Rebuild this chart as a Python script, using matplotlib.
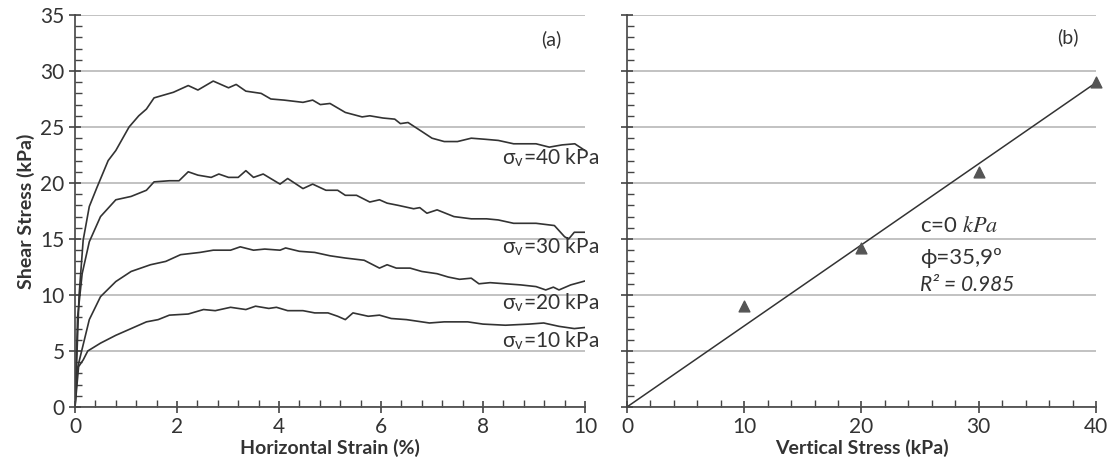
import numpy as np
import matplotlib
matplotlib.use("Agg")
import matplotlib.pyplot as plt
from matplotlib.ticker import MultipleLocator

plt.rcParams['font.family'] = ['Lato', 'DejaVu Sans']
plt.rcParams['mathtext.fontset'] = 'stix'

# (a) shear stress vs horizontal strain, one curve per vertical stress
x40 = [0, 0.04, 0.08, 0.16, 0.28, 0.43, 0.65, 0.8, 1.06, 1.25, 1.4, 1.55, 1.93, 2.22, 2.41, 2.71, 3.01,
       3.16, 3.35, 3.65, 3.84, 4.1, 4.47, 4.66, 4.81, 5.0, 5.3, 5.63, 5.78, 6.04, 6.27, 6.38, 6.53,
       6.8, 7.0, 7.24, 7.5, 7.77, 8.05, 8.3, 8.6, 9.04, 9.3, 9.55, 9.8, 10.0]
y40 = [0, 5.0, 10.0, 14.9, 17.9, 19.6, 22.0, 22.9, 25.0, 26.0, 26.6, 27.6, 28.1, 28.7, 28.3, 29.1, 28.5,
       28.8, 28.2, 28.0, 27.5, 27.4, 27.2, 27.4, 27.0, 27.1, 26.3, 25.9, 26.0, 25.8, 25.7, 25.3, 25.4,
       24.6, 24.0, 23.7, 23.7, 24.0, 23.9, 23.8, 23.5, 23.5, 23.2, 23.4, 23.5, 22.9]

x30 = [0, 0.05, 0.14, 0.28, 0.5, 0.8, 1.1, 1.4, 1.55, 1.85, 2.04, 2.22, 2.41, 2.67, 2.82, 3.01, 3.2,
       3.35, 3.5, 3.69, 4.02, 4.17, 4.47, 4.66, 4.92, 5.15, 5.3, 5.52, 5.78, 5.97, 6.12, 6.34, 6.64,
       6.76, 6.9, 7.1, 7.43, 7.77, 8.07, 8.3, 8.6, 9.04, 9.4, 9.6, 9.68, 9.79, 10.0]
y30 = [0, 8.0, 11.9, 14.75, 17.0, 18.5, 18.8, 19.35, 20.1, 20.2, 20.2, 21.0, 20.7, 20.5, 20.8, 20.5, 20.5,
       21.1, 20.5, 20.8, 19.9, 20.4, 19.5, 19.9, 19.35, 19.35, 18.9, 18.9, 18.3, 18.5, 18.2, 18.0, 17.7,
       17.8, 17.3, 17.6, 17.0, 16.8, 16.8, 16.7, 16.4, 16.4, 16.2, 15.2, 15.0, 15.6, 15.6]

x20 = [0, 0.05, 0.13, 0.28, 0.5, 0.8, 1.1, 1.48, 1.78, 2.07, 2.45, 2.71, 3.05, 3.24, 3.5, 3.72, 4.02,
       4.13, 4.4, 4.7, 5.0, 5.3, 5.67, 5.97, 6.12, 6.3, 6.57, 6.8, 7.1, 7.32, 7.54, 7.77, 7.92, 8.14,
       8.44, 8.74, 9.04, 9.23, 9.38, 9.49, 9.72, 10.0]
y20 = [0, 3.5, 5.0, 7.8, 9.85, 11.2, 12.1, 12.7, 13.0, 13.6, 13.8, 14.0, 14.0, 14.3, 14.0, 14.1, 14.0,
       14.2, 13.9, 13.8, 13.5, 13.3, 13.1, 12.4, 12.7, 12.4, 12.4, 12.1, 11.9, 11.6, 11.4, 11.5, 11.0, 11.1,
       11.0, 10.9, 10.75, 10.45, 10.7, 10.45, 10.9, 11.25]

x10 = [0, 0.07, 0.16, 0.25, 0.5, 0.8, 1.1, 1.4, 1.63, 1.85, 2.22, 2.52, 2.75, 3.05, 3.35, 3.54, 3.8,
       3.95, 4.17, 4.47, 4.7, 4.96, 5.15, 5.3, 5.45, 5.75, 5.97, 6.2, 6.5, 6.8, 6.95, 7.24, 7.7, 8.0,
       8.44, 8.9, 9.19, 9.49, 9.79, 10.0]
y10 = [0, 3.6, 4.2, 5.0, 5.7, 6.4, 7.0, 7.6, 7.8, 8.2, 8.3, 8.7, 8.6, 8.9, 8.7, 9.0, 8.8,
       8.9, 8.6, 8.6, 8.4, 8.4, 8.1, 7.8, 8.4, 8.1, 8.2, 7.9, 7.8, 7.6, 7.5, 7.6, 7.6, 7.4,
       7.3, 7.4, 7.5, 7.2, 7.0, 7.1]

curve_labels = [r'σ$_\mathregular{v}$=40 kPa', r'σ$_\mathregular{v}$=30 kPa',
                r'σ$_\mathregular{v}$=20 kPa', r'σ$_\mathregular{v}$=10 kPa']
label_y = [22.3, 14.3, 9.3, 5.9]

# (b) failure envelope
sigma_v = [10, 20, 30, 40]
tau_peak = [9.0, 14.2, 21.0, 29.0]
phi_deg = 35.9

line_col = '#333333'
grid_col = '#b8b8b8'

fig = plt.figure(figsize=(11.13, 4.76), dpi=100)
axa = fig.add_axes([0.0674, 0.145, 0.4582, 0.8235])
axb = fig.add_axes([0.5633, 0.145, 0.4214, 0.8235])


def style_axis(ax):
    for s in ['top', 'right']:
        ax.spines[s].set_visible(False)
    for s in ['left', 'bottom']:
        ax.spines[s].set_color('#444444')
        ax.spines[s].set_linewidth(1.2)
    ax.yaxis.grid(True, color=grid_col, linewidth=1.2)
    ax.set_axisbelow(True)
    ax.set_ylim(0, 35)
    ax.yaxis.set_major_locator(MultipleLocator(5))
    ax.yaxis.set_minor_locator(MultipleLocator(1))
    ax.tick_params(which='major', direction='inout', length=9, width=1.2, color='#444444',
                   labelsize=15, labelcolor='#333333', pad=3)
    ax.tick_params(which='minor', direction='in', length=5, width=1.0, color='#444444')


# panel (a)
style_axis(axa)
for xs, ys in [(x40, y40), (x30, y30), (x20, y20), (x10, y10)]:
    axa.plot(xs, ys, color=line_col, linewidth=1.2)
for lab, ly in zip(curve_labels, label_y):
    axa.text(10.27, ly, lab, ha='right', va='center', fontsize=15, color='#333333')
axa.set_xlim(0, 10)
axa.xaxis.set_major_locator(MultipleLocator(2))
axa.xaxis.set_minor_locator(MultipleLocator(0.4))
axa.set_xlabel('Horizontal Strain (%)', fontsize=14, fontweight='bold', color='#333333', labelpad=1)
axa.set_ylabel('Shear Stress (kPa)', fontsize=14, fontweight='bold', color='#333333', labelpad=4)
axa.text(9.33, 32.8, '(a)', ha='center', va='center', fontsize=14, color='#333333')

# panel (b)
style_axis(axb)
axb.tick_params(axis='y', labelleft=False)
xfit = np.array([0, 40])
axb.plot(xfit, xfit * np.tan(np.radians(phi_deg)), color=line_col, linewidth=1.1)
axb.scatter(sigma_v, tau_peak, marker='^', s=60, color='#555555', zorder=3, clip_on=False)
axb.set_xlim(0, 40)
axb.xaxis.set_major_locator(MultipleLocator(10))
axb.xaxis.set_minor_locator(MultipleLocator(2))
axb.set_xlabel('Vertical Stress (kPa)', fontsize=14, fontweight='bold', color='#333333', labelpad=1)
axb.text(37.6, 33.0, '(b)', ha='center', va='center', fontsize=14, color='#333333')
axb.text(25.0, 16.2, r'c=0 $kPa$', fontsize=16, color='#333333', va='center')
axb.text(25.0, 13.3, 'ϕ=35,9º', fontsize=16, color='#333333', va='center')
axb.text(25.0, 10.9, 'R² = 0.985', fontsize=15, style='italic', color='#333333', va='center')

fig.savefig('out.png', dpi=100)
